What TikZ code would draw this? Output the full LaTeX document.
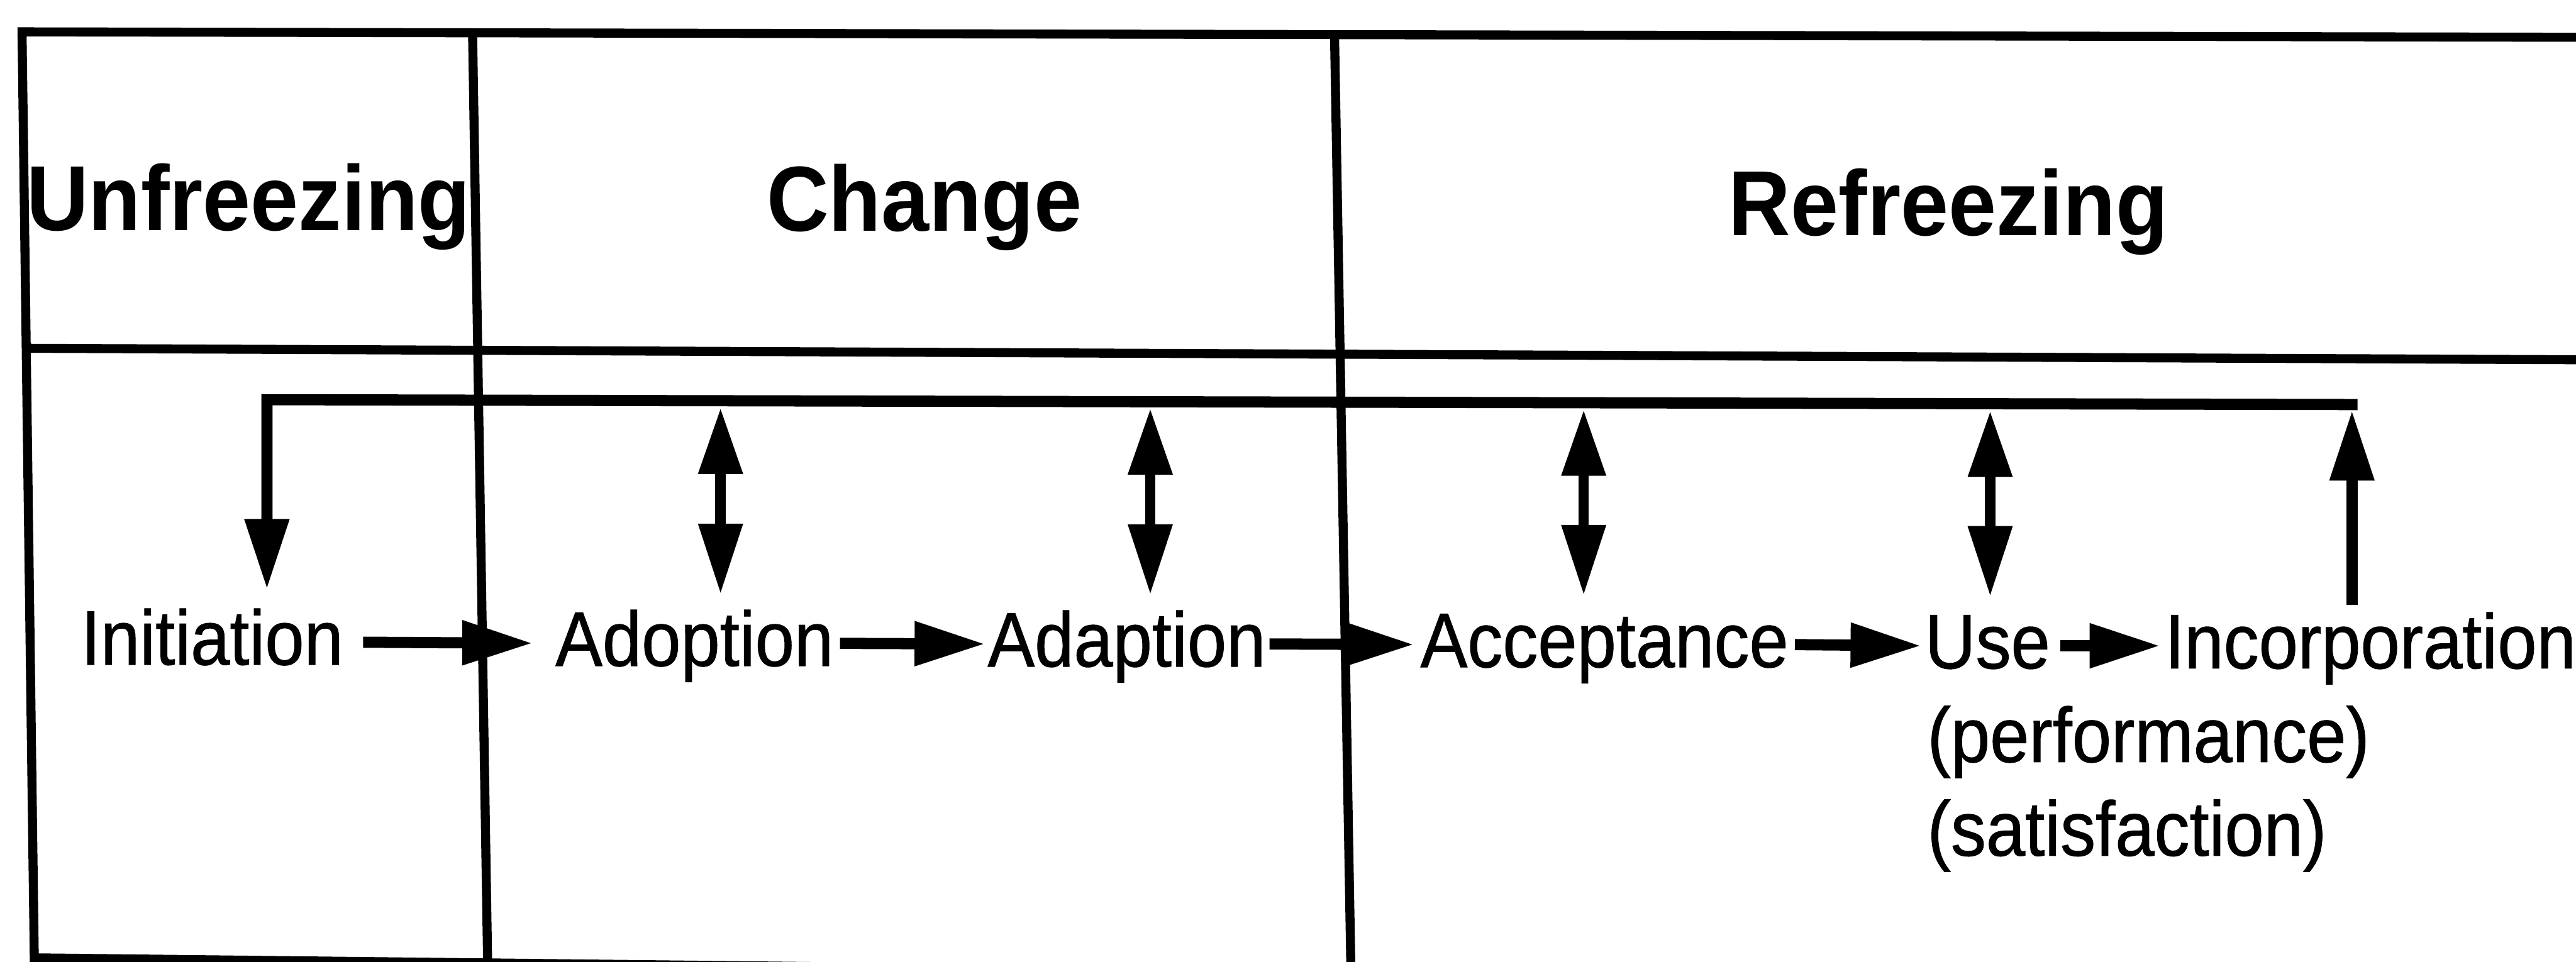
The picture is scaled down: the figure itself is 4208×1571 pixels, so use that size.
\documentclass[tikz,border=0pt]{standalone}
\usepackage{fontspec}
\setmainfont{Liberation Sans}[FakeStretch=0.91, FakeBold=0.8]
\newfontfamily\headfont{Liberation Sans}[FakeStretch=0.93]
\usetikzlibrary{arrows.meta}

\begin{document}
\begin{tikzpicture}[x=0.005cm, y=-0.005cm,
  frame/.style={line width=2.1pt, line cap=square},
  stage/.style={font=\headfont\bfseries\fontsize{21.5}{24}\selectfont, anchor=base, inner sep=0pt},
  stepnode/.style={font=\fontsize{18}{21.8}\selectfont, anchor=base west, inner sep=0pt,
                   text height=10.5pt, text depth=0pt},
  note/.style={font=\fontsize{18}{21.8}\selectfont, anchor=base west, inner sep=0pt},
  flow/.style={line width=2.6pt, -{Triangle[length=16.4pt,width=9.8pt]}},
  link/.style={line width=2.4pt, {Triangle[length=15.4pt,width=9.8pt]}-{Triangle[length=16.4pt,width=9.8pt]}},
  feedback/.style={line width=2.6pt}
]
\clip (0,0) rectangle (4208,1571);

% table frame: outer border, header rule and column rules
\draw[frame] (4260,61) -- (36,52) -- (56,1565) -- (4260,1612);
\draw[frame] (42,569) -- (4260,588);
\draw[frame] (772,55) -- (797,1600);
\draw[frame] (2180,58) -- (2207,1600);

% stage headings
\node[stage] (unfreeze) at (406,377) {Unfreezing};
\node[stage] (change)   at (1510,378) {Change};
\node[stage] (refreeze) at (3183,385) {Refreezing};

% process steps
\node[stepnode] (init)   at (131,1086)  {Initiation};
\node[stepnode] (adopt)  at (906,1088)  {Adoption};
\node[stepnode] (adapt)  at (1612,1089) {Adaption};
\node[stepnode] (accept) at (2319,1090) {Acceptance};
\node[stepnode] (use)    at (3143,1092) {Use};
\node[stepnode] (incorp) at (3535,1092) {Incorporation};
\node[note] (perf)  at (3147,1245) {(performance)};
\node[note] (satis) at (3147,1398) {(satisfaction)};

% forward flow
\draw[flow, shorten <=4.4pt, shorten >=5.1pt] (init.east)   -- (adopt.west);
\draw[flow, shorten <=1.3pt, shorten >=0.4pt] (adopt.east)  -- (adapt.west);
\draw[flow, shorten <=0.7pt, shorten >=1.3pt] (adapt.east)  -- (accept.west);
\draw[flow, shorten <=1.3pt, shorten >=0.7pt] (accept.east) -- (use.west);
\draw[flow, shorten <=2.2pt, shorten >=0.9pt] (use.east)    -- (incorp.west);

% feedback loop back to initiation
\coordinate (fbL) at (436,653);
\coordinate (fbR) at (3851,661);
\draw[feedback, -{Triangle[length=16.4pt,width=9.8pt]}, shorten >=6.8pt]
  (fbR) -- (fbL) -- (fbL |- init.north);

\coordinate (tapI) at (3842,661);
\draw[flow, shorten <=4pt, shorten >=1.3pt] (tapI |- incorp.north) -- (tapI);

% two-way links between the loop and the steps
\coordinate (tapA) at (1177,655);
\coordinate (tapB) at (1879,656);
\coordinate (tapC) at (2587,658);
\coordinate (tapD) at (3251,660);
\draw[link, shorten <=1.6pt, shorten >=6pt] (tapA) -- (tapA |- adopt.north);
\draw[link, shorten <=1.6pt, shorten >=6pt] (tapB) -- (tapB |- adapt.north);
\draw[link, shorten <=1.6pt, shorten >=6pt] (tapC) -- (tapC |- accept.north);
\draw[link, shorten <=1.6pt, shorten >=6pt] (tapD) -- (tapD |- use.north);
\end{tikzpicture}
\end{document}
